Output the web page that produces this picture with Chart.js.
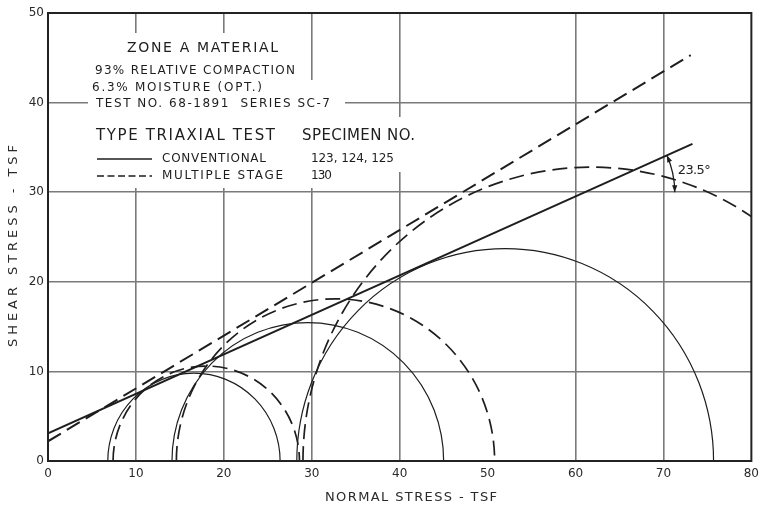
<!DOCTYPE html>
<html>
<head>
<meta charset="utf-8">
<script src="https://cdn.jsdelivr.net/npm/chart.js@4/dist/chart.umd.min.js"></script>
<style>
  body { margin: 0; background: #fff; }
</style>
</head>
<body>
<canvas id="myChart" width="765" height="509"></canvas>
<script>
// Mohr circles (tsf): minor and major principal stress
const convSigma3 = [6.8, 14.1, 28.3];
const convSigma1 = [26.4, 45.0, 75.7];
const multiSigma3 = [7.4, 14.6, 29.0];
const multiSigma1 = [28.6, 50.8, 94.6];

// failure envelopes (normal stress, shear stress)
const convEnvX = [0, 73.3];
const convEnvY = [3.1, 35.4];
const multiEnvX = [0, 73.1];
const multiEnvY = [2.2, 45.3];

// axes
const xTicks = [0, 10, 20, 30, 40, 50, 60, 70, 80];
const yTicks = [0, 10, 20, 30, 40, 50];

const angleLabel = "23.5°";
const angleRefY = 30;

const ink = "#1e1e1e";
const gridGray = "#7a7a7a";
const fontFamily = "'DejaVu Sans', sans-serif";

function toPoints(xs, ys) {
  return xs.map((x, i) => ({ x: x, y: ys[i] }));
}

// draw text stretched to a given width by letter spacing
function fitText(ctx, str, x, y, width) {
  ctx.letterSpacing = "0px";
  const w = ctx.measureText(str).width;
  const sp = (width - w) / Math.max(1, str.length - 1);
  ctx.letterSpacing = sp + "px";
  ctx.fillText(str, x, y);
  ctx.letterSpacing = "0px";
}

function drawCircles(chart, s3, s1, dash, lw) {
  const ctx = chart.ctx;
  const xs = chart.scales.x;
  const ys = chart.scales.y;
  ctx.save();
  ctx.strokeStyle = ink;
  ctx.lineWidth = lw;
  ctx.setLineDash(dash);
  for (let i = 0; i < s3.length; i++) {
    const c = (s3[i] + s1[i]) / 2;
    const r = (s1[i] - s3[i]) / 2;
    const cx = xs.getPixelForValue(c);
    const cy = ys.getPixelForValue(0);
    const rx = xs.getPixelForValue(c + r) - cx;
    const ry = cy - ys.getPixelForValue(r);
    ctx.beginPath();
    ctx.ellipse(cx, cy, rx, ry, 0, Math.PI, 2 * Math.PI);
    ctx.stroke();
  }
  ctx.restore();
}

function arrowHead(ctx, x, y, dx, dy) {
  const len = 7, hw = 2.6;
  ctx.beginPath();
  ctx.moveTo(x, y);
  ctx.lineTo(x - dx * len - dy * hw, y - dy * len + dx * hw);
  ctx.lineTo(x - dx * len + dy * hw, y - dy * len - dx * hw);
  ctx.closePath();
  ctx.fill();
}

const annotations = {
  id: "annotations",
  beforeDatasetsDraw(chart) {
    const ctx = chart.ctx;
    const a = chart.chartArea;
    const L = a.left, T = a.top;

    // white background behind the note block hides the grid
    ctx.save();
    ctx.fillStyle = "#fff";
    ctx.fillRect(L + 40, T + 20, 212, 155);
    ctx.fillRect(L + 252, T + 67, 45, 108);
    ctx.fillRect(L + 297, T + 104, 75, 55);

    ctx.fillStyle = ink;
    ctx.textBaseline = "middle";
    ctx.textAlign = "left";
    ctx.font = "14px " + fontFamily;
    fitText(ctx, "ZONE A MATERIAL", L + 79, T + 35, 151);
    ctx.font = "12px " + fontFamily;
    fitText(ctx, "93% RELATIVE COMPACTION", L + 47, T + 57.5, 200);
    fitText(ctx, "6.3% MOISTURE (OPT.)", L + 44, T + 75, 170);
    fitText(ctx, "TEST NO. 68-1891  SERIES SC-7", L + 48, T + 91, 234);
    ctx.font = "15px " + fontFamily;
    fitText(ctx, "TYPE TRIAXIAL TEST", L + 48, T + 123, 179);
    fitText(ctx, "SPECIMEN NO.", L + 254, T + 123, 113);
    ctx.font = "12px " + fontFamily;
    fitText(ctx, "CONVENTIONAL", L + 114, T + 146, 104);
    fitText(ctx, "123, 124, 125", L + 263, T + 146, 83);
    fitText(ctx, "MULTIPLE STAGE", L + 114, T + 163, 121);
    fitText(ctx, "130", L + 263, T + 163, 21);

    // legend samples
    ctx.strokeStyle = ink;
    ctx.lineWidth = 1.6;
    ctx.beginPath();
    ctx.moveTo(L + 49, T + 146);
    ctx.lineTo(L + 104, T + 146);
    ctx.stroke();
    ctx.setLineDash([7, 3.5]);
    ctx.beginPath();
    ctx.moveTo(L + 49, T + 163);
    ctx.lineTo(L + 104, T + 163);
    ctx.stroke();
    ctx.restore();

    // Mohr circles, clipped to the plot
    ctx.save();
    ctx.beginPath();
    ctx.rect(a.left, a.top, a.right - a.left, a.bottom - a.top);
    ctx.clip();
    drawCircles(chart, convSigma3, convSigma1, [], 1.2);
    drawCircles(chart, multiSigma3, multiSigma1, [15, 7], 1.7);
    ctx.restore();
  },
  afterDatasetsDraw(chart) {
    const ctx = chart.ctx;
    const a = chart.chartArea;
    const xs = chart.scales.x;
    const ys = chart.scales.y;

    // angle of the conventional envelope
    const slope = (convEnvY[1] - convEnvY[0]) / (convEnvX[1] - convEnvX[0]);
    const xv = (angleRefY - convEnvY[0]) / slope;
    const vx = xs.getPixelForValue(xv);
    const vy = ys.getPixelForValue(angleRefY);
    const p0x = xs.getPixelForValue(convEnvX[0]), p0y = ys.getPixelForValue(convEnvY[0]);
    const p1x = xs.getPixelForValue(convEnvX[1]), p1y = ys.getPixelForValue(convEnvY[1]);
    const ang = Math.atan2(p0y - p1y, p1x - p0x);
    const R = 90;
    ctx.save();
    ctx.strokeStyle = ink;
    ctx.fillStyle = ink;
    ctx.lineWidth = 1.3;
    ctx.beginPath();
    ctx.arc(vx, vy, R, -ang, 0);
    ctx.stroke();
    const t = -ang;
    arrowHead(ctx, vx + R * Math.cos(t), vy + R * Math.sin(t), -Math.sin(ang), -Math.cos(ang));
    arrowHead(ctx, vx + R, vy, 0, 1);
    ctx.font = "13px " + fontFamily;
    ctx.textBaseline = "middle";
    fitText(ctx, angleLabel, vx + 93, vy - 22, 33);
    ctx.restore();

    // plot frame
    ctx.save();
    ctx.strokeStyle = "#222";
    ctx.lineWidth = 2;
    ctx.strokeRect(a.left, a.top, a.right - a.left, a.bottom - a.top);
    ctx.restore();

    // axis titles
    ctx.save();
    ctx.fillStyle = "#2a2a2a";
    ctx.font = "13px " + fontFamily;
    ctx.textBaseline = "middle";
    fitText(ctx, "NORMAL STRESS - TSF", 325, 498, 172);
    ctx.translate(14, 347);
    ctx.rotate(-Math.PI / 2);
    fitText(ctx, "SHEAR STRESS - TSF", 0, 0, 202);
    ctx.restore();
  }
};

const data = {
  datasets: [
    {
      label: "Conventional envelope",
      data: toPoints(convEnvX, convEnvY),
      showLine: true,
      borderColor: ink,
      borderWidth: 2,
      pointRadius: 0,
      fill: false,
    },
    {
      label: "Multiple stage envelope",
      data: toPoints(multiEnvX, multiEnvY),
      showLine: true,
      borderColor: ink,
      borderWidth: 2,
      borderDash: [15, 7],
      pointRadius: 0,
      fill: false,
    },
  ],
};

const gridColor = (c) => {
  const v = c.tick ? c.tick.value : null;
  return v === 0 || v === 80 || v === 50 ? "rgba(0,0,0,0)" : gridGray;
};

const config = {
  type: "scatter",
  data,
  options: {
    responsive: false,
    animation: false,
    layout: { padding: { top: 13, right: 7, left: 0, bottom: 0 } },
    plugins: { legend: { display: false }, tooltip: { enabled: false } },
    scales: {
      x: {
        type: "linear",
        min: 0,
        max: 80,
        afterBuildTicks: (s) => { s.ticks = xTicks.map((v) => ({ value: v })); },
        afterFit: (s) => { s.height = 48; },
        ticks: { color: "#2a2a2a", font: { family: fontFamily, size: 12 }, padding: 6, maxRotation: 0 },
        grid: { color: gridColor, lineWidth: 1.6, drawTicks: false },
        border: { display: false },
      },
      y: {
        type: "linear",
        min: 0,
        max: 50,
        afterBuildTicks: (s) => { s.ticks = yTicks.map((v) => ({ value: v })); },
        afterFit: (s) => { s.width = 48; },
        ticks: { color: "#2a2a2a", font: { family: fontFamily, size: 12 }, padding: 4 },
        grid: { color: gridColor, lineWidth: 1.6, drawTicks: false },
        border: { display: false },
      },
    },
  },
  plugins: [annotations],
};

const myChart = new Chart(document.getElementById("myChart"), config);
</script>
</body>
</html>
